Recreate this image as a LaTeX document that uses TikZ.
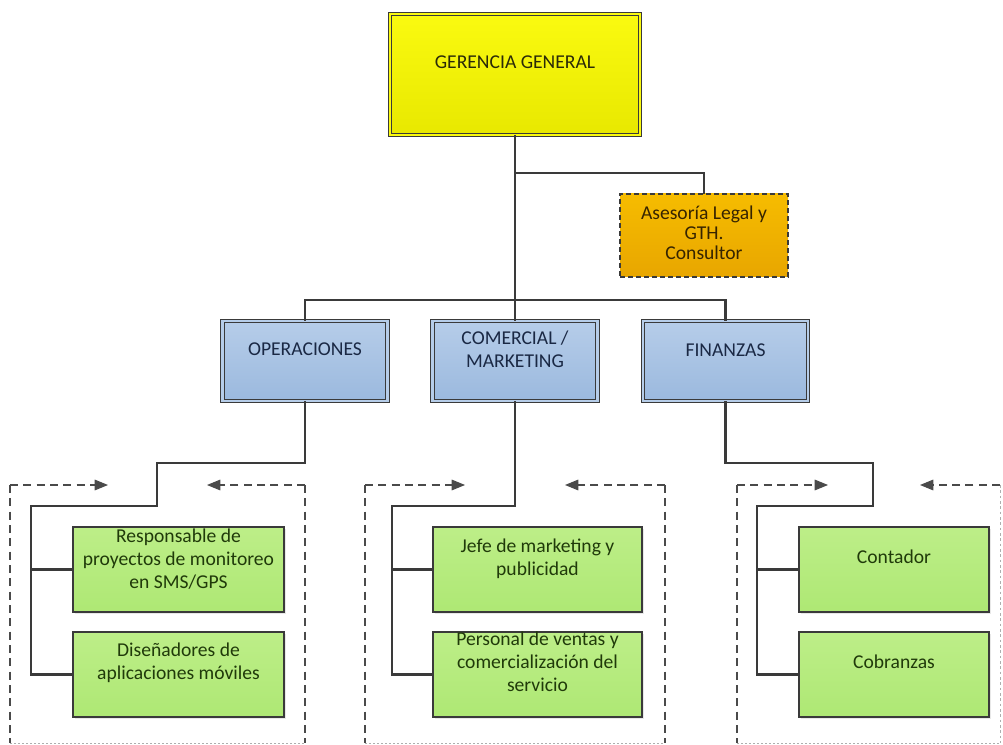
\documentclass[tikz,border=0pt]{standalone}
\usepackage{fontspec}
\setmainfont{Carlito}
\usetikzlibrary{arrows.meta,shadows}

\definecolor{wire}{HTML}{3A3A3A}
\definecolor{frame}{HTML}{4A4A4A}
\definecolor{yelTop}{HTML}{FAFA10}
\definecolor{yelBot}{HTML}{E8E800}
\definecolor{bluTop}{HTML}{B6CDE9}
\definecolor{bluBot}{HTML}{9BB9DE}
\definecolor{grnTop}{HTML}{BDEE88}
\definecolor{grnBot}{HTML}{AEE874}
\definecolor{orgTop}{HTML}{F6BC00}
\definecolor{orgBot}{HTML}{E8A600}
\definecolor{txtYel}{HTML}{2A2A08}
\definecolor{txtBlu}{HTML}{1A2844}
\definecolor{txtGrn}{HTML}{203A0A}
\definecolor{txtOrg}{HTML}{362400}

\tikzset{
  unitbox/.style={rectangle, inner sep=0pt, outer sep=0pt},
  shade/.style={drop shadow={opacity=0.18, shadow xshift=1.5pt, shadow yshift=-1.5pt}},
  topbox/.style={unitbox, shade, top color=yelTop, bottom color=yelBot,
    draw=wire, line width=0.7pt, double=yelTop, double distance=2pt,
    minimum width=250*0.75pt, minimum height=121*0.75pt},
  advbox/.style={unitbox, top color=orgTop, bottom color=orgBot,
    draw=wire, line width=0.8pt, dash pattern=on 4pt off 2pt,
    minimum width=168*0.75pt, minimum height=83*0.75pt},
  deptbox/.style={unitbox, shade, top color=bluTop, bottom color=bluBot,
    draw=wire, line width=0.7pt, double=bluTop, double distance=2pt,
    minimum width=165*0.75pt, minimum height=80*0.75pt},
  staffbox/.style={unitbox, shade, top color=grnTop, bottom color=grnBot,
    draw=wire, line width=0.9pt, minimum height=85*0.75pt},
  label/.style={align=center, inner sep=0pt,
    font=\fontsize{14.7}{17.4}\selectfont},
  link/.style={draw=wire, line width=1.8pt},
  stub/.style={draw=wire, line width=2.2pt},
  groupedge/.style={draw=frame, line width=0.8pt, dash pattern=on 6pt off 4pt},
  groupfoot/.style={draw=frame!45, line width=0.7pt, dash pattern=on 1.5pt off 1.5pt},
  grouparrow/.style={groupedge, -{Triangle[length=10pt, width=8pt]}},
}

\begin{document}
\begin{tikzpicture}[x=0.75pt, y=-0.75pt]
\useasboundingbox (0,0) rectangle (1003,745);

% ---- boxes ----
\node[topbox] (ger) at (515,74.5) {};
\node[advbox] (ase) at (704,235.5) {};
\node[deptbox] (ope) at (305,361) {};
\node[deptbox] (com) at (515,361) {};
\node[deptbox] (fin) at (725.5,361) {};

\node[staffbox, minimum width=211*0.75pt] (g1a) at (178.5,569.5) {};
\node[staffbox, minimum width=211*0.75pt] (g1b) at (178.5,674.5) {};
\node[staffbox, minimum width=209*0.75pt] (g2a) at (537.5,569.5) {};
\node[staffbox, minimum width=209*0.75pt] (g2b) at (537.5,674.5) {};
\node[staffbox, minimum width=190*0.75pt] (g3a) at (894,569.5) {};
\node[staffbox, minimum width=190*0.75pt] (g3b) at (894,674.5) {};

% ---- texts ----
\node[label, text=txtYel] (gerT) at (515,62) {GERENCIA GENERAL};
\node[label, text=txtOrg, font=\fontsize{14.7}{15}\selectfont] (aseT) at (704,233)
  {Asesoría Legal y\\GTH.\\Consultor};
\node[label, text=txtBlu] (opeT) at (305,349) {OPERACIONES};
\node[label, text=txtBlu] (comT) at (515,349) {COMERCIAL /\\MARKETING};
\node[label, text=txtBlu] (finT) at (725.5,350) {FINANZAS};

\node[label, text=txtGrn] (g1aT) at (178.5,559) {Responsable de\\proyectos de monitoreo\\en SMS/GPS};
\node[label, text=txtGrn] (g1bT) at (178.5,663) {Diseñadores de\\aplicaciones móviles};
\node[label, text=txtGrn] (g2aT) at (537.5,559) {Jefe de marketing y\\publicidad};
\node[label, text=txtGrn] (g2bT) at (537.5,662) {Personal de ventas y\\comercialización del\\servicio};
\node[label, text=txtGrn] (g3aT) at (894,557) {Contador};
\node[label, text=txtGrn] (g3bT) at (894,662) {Cobranzas};

% ---- upper connectors ----
\coordinate (tapA) at (515,173);
\coordinate (bus) at (515,300);
\draw[link] (ger.south) -- (com.north);
\draw[link] (tapA) -| (ase.north);
\draw[link] (ope.north) |- (bus) -| (fin.north);

% ---- group frames: arrowed top edges, dashed left sides, dotted feet ----
\foreach \l/\r/\ta/\tb in {10/305/108/207, 365/665/465/565, 737/1000/828/920}{
  \coordinate (nw) at (\l,485);
  \coordinate (ne) at (\r,485);
  \coordinate (sw) at (\l,743);
  \coordinate (se) at (\r,743);
  \coordinate (tipL) at (\ta,485);
  \coordinate (tipR) at (\tb,485);
  \draw[grouparrow] (nw) -- (tipL);
  \draw[grouparrow] (ne) -- (tipR);
  \draw[groupedge] (nw) -- (sw);
  \draw[groupfoot] (sw) -- (se);
}
% right sides
\draw[groupedge] (305,485) -- (305,743);
\draw[groupedge] (665,485) -- (665,743);
\draw[groupfoot, dash pattern=on 2pt off 2pt] (1000,485) -- (1000,743);

% ---- group 1 connectors ----
\coordinate (s1) at (157,463);
\coordinate (t1) at (31,506);
\draw[link] (ope.south) |- (s1) |- (t1) |- (g1b.west);
\draw[link] (t1 |- g1a.west) -- (g1a.west);
\draw[stub] (g1b.west) -- ++(0,21);

% ---- group 2 connectors ----
\coordinate (t2) at (392,506);
\draw[link] (com.south) |- (t2) |- (g2b.west);
\draw[link] (t2 |- g2a.west) -- (g2a.west);
\draw[stub] (g2b.west) -- ++(0,21);

% ---- group 3 connectors ----
\coordinate (s3) at (873,463);
\coordinate (t3) at (757,506);
\draw[link] (fin.south) |- (s3) |- (t3) |- (g3b.west);
\draw[link] (t3 |- g3a.west) -- (g3a.west);
\draw[stub] (g3b.west) -- ++(0,21);
\end{tikzpicture}
\end{document}
